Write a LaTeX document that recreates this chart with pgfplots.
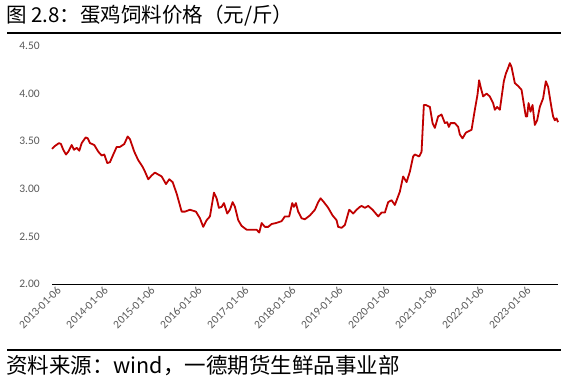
\documentclass[border=0pt]{standalone}
\usepackage{pgfplots}
\pgfplotsset{compat=1.18}
\usepackage{pgfplotstable}
\usepackage{fontspec}
\setmainfont{Carlito}
\newfontfamily\cjk{Noto Sans CJK SC}
\newfontfamily\tickfont{Carlito}
\definecolor{linered}{RGB}{192,0,0}
\definecolor{ticktext}{RGB}{89,89,89}
\definecolor{baseline}{RGB}{217,217,217}

\pgfplotstableread{
t v
0.000 3.42
0.064 3.45
0.149 3.48
0.191 3.47
0.240 3.41
0.298 3.36
0.347 3.39
0.419 3.46
0.468 3.41
0.526 3.43
0.581 3.40
0.632 3.48
0.717 3.54
0.760 3.53
0.809 3.48
0.900 3.46
0.985 3.39
1.057 3.35
1.113 3.36
1.177 3.27
1.234 3.28
1.304 3.36
1.377 3.44
1.447 3.44
1.538 3.47
1.611 3.55
1.660 3.52
1.751 3.39
1.836 3.30
1.930 3.23
1.979 3.18
2.049 3.10
2.121 3.14
2.191 3.17
2.262 3.15
2.334 3.13
2.426 3.05
2.496 3.10
2.568 3.07
2.653 2.95
2.760 2.76
2.830 2.76
2.936 2.78
3.064 2.76
3.149 2.69
3.219 2.60
3.291 2.67
3.362 2.71
3.447 2.96
3.504 2.90
3.553 2.80
3.611 2.81
3.660 2.85
3.730 2.74
3.787 2.78
3.845 2.86
3.894 2.81
3.964 2.67
4.036 2.61
4.143 2.57
4.213 2.57
4.270 2.57
4.355 2.57
4.411 2.54
4.462 2.64
4.532 2.60
4.602 2.60
4.674 2.63
4.766 2.64
4.887 2.66
4.957 2.71
5.049 2.71
5.113 2.85
5.149 2.81
5.191 2.85
5.240 2.76
5.313 2.69
5.383 2.68
5.489 2.72
5.596 2.78
5.666 2.86
5.717 2.90
5.787 2.86
5.879 2.80
5.972 2.72
6.057 2.67
6.091 2.60
6.164 2.59
6.234 2.62
6.326 2.78
6.411 2.74
6.483 2.78
6.553 2.81
6.589 2.82
6.660 2.80
6.730 2.82
6.823 2.78
6.943 2.71
7.015 2.75
7.085 2.75
7.155 2.86
7.228 2.88
7.298 2.83
7.404 2.97
7.474 3.13
7.547 3.07
7.617 3.18
7.687 3.34
7.723 3.36
7.815 3.34
7.866 3.39
7.915 3.88
7.957 3.88
8.043 3.86
8.100 3.69
8.149 3.64
8.219 3.76
8.291 3.78
8.362 3.69
8.411 3.70
8.447 3.65
8.483 3.69
8.574 3.69
8.645 3.65
8.681 3.57
8.738 3.53
8.809 3.59
8.930 3.62
9.000 3.83
9.057 3.99
9.091 4.14
9.128 4.06
9.177 3.97
9.249 4.00
9.319 3.97
9.389 3.90
9.426 3.83
9.474 3.86
9.532 3.83
9.617 4.13
9.660 4.21
9.709 4.27
9.745 4.32
9.781 4.28
9.851 4.11
9.921 4.08
9.994 4.04
10.085 3.76
10.113 3.76
10.143 3.90
10.185 3.81
10.228 3.88
10.277 3.67
10.326 3.72
10.383 3.86
10.453 3.95
10.511 4.13
10.560 4.07
10.632 3.85
10.666 3.76
10.702 3.72
10.738 3.74
10.772 3.70
}\feed

\begin{document}
\begin{tikzpicture}
\path[use as bounding box] (0pt,0pt) rectangle (568pt,382pt);
% title and rules
\node[anchor=west, inner sep=0pt, font=\cjk\fontsize{20.5}{20.5}\selectfont] at (6pt,366pt) {图 2.8：蛋鸡饲料价格（元/斤）};
\draw[line width=2.2pt] (7pt,349pt) -- (561pt,349pt);
\draw[line width=2.2pt] (7pt,32pt) -- (561pt,32pt);
\node[anchor=west, inner sep=0pt, font=\cjk\fontsize{21.5}{21.5}\selectfont] at (6pt,16pt) {资料来源：wind，一德期货生鲜品事业部};
\begin{axis}[
  at={(52pt,98pt)}, anchor=south west,
  scale only axis, width=506pt, height=238pt,
  xmin=0, xmax=10.77, ymin=2, ymax=4.5,
  axis line style={draw=none},
  axis x line*=bottom, axis y line*=left,
  major tick length=0pt,
  xtick={0,1,2,3,4,5,6,7,8,9,10},
  xticklabels={2013-01-06,2014-01-06,2015-01-06,2016-01-06,2017-01-06,2018-01-06,2019-01-06,2020-01-06,2021-01-06,2022-01-06,2023-01-06},
  ytick={2,2.5,3,3.5,4,4.5},
  yticklabels={2.00,2.50,3.00,3.50,4.00,4.50},
  x tick label style={font=\tickfont\fontsize{11.5}{11.5}\selectfont, text=ticktext, rotate=45, anchor=east, inner sep=0pt, xshift=2pt, yshift=-8pt},
  y tick label style={font=\tickfont\fontsize{11.5}{11.5}\selectfont, text=ticktext, anchor=east, inner sep=0pt, xshift=-12pt},
  clip=false,
]
\draw[baseline, line width=0.8pt] (axis cs:0,2) -- (axis cs:10.77,2);
\addplot[linered, line width=1.8pt, line join=round] table[x=t,y=v] {\feed};
\end{axis}
\end{tikzpicture}
\end{document}
